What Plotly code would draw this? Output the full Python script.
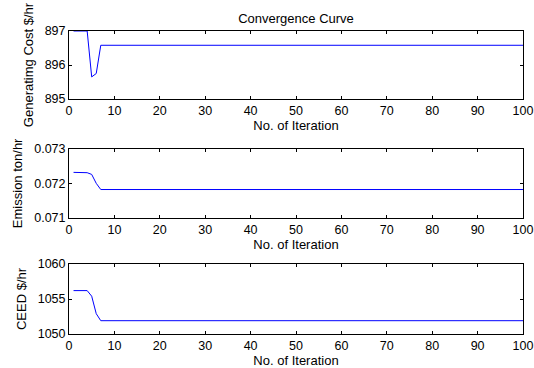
import plotly.graph_objects as go

iterations = list(range(1, 101))
cost_head = [897.0, 897.0, 897.0, 897.0, 895.65, 895.75, 896.58]
emission_head = [0.07232, 0.07232, 0.07232, 0.07231, 0.07226, 0.07200, 0.07182]
ceed_head = [1056.2, 1056.2, 1056.2, 1056.2, 1055.4, 1052.9, 1051.9]
cost = cost_head + [896.58] * (100 - len(cost_head))
emission = emission_head + [0.07182] * (100 - len(emission_head))
ceed = ceed_head + [1051.9] * (100 - len(ceed_head))

title_text = "Convergence Curve"
x_title = "No. of Iteration"
y_titles = ["Generatimg Cost $/hr", "Emission ton/hr", "CEED $/hr"]
y_ranges = [[895, 897], [0.071, 0.073], [1050, 1060]]
y_ticks = [[895, 896, 897], [0.071, 0.072, 0.073], [1050, 1055, 1060]]
y_ticktext = [["895", "896", "897"], ["0.071", "0.072", "0.073"], ["1050", "1055", "1060"]]
x_ticks = list(range(0, 101, 10))

W, H = 534, 368
x0, x1 = 69, 523
boxes = [(31, 99), (149, 217.7), (264, 334)]

fig = go.Figure()
font = dict(family="Liberation Sans, Arial, sans-serif", size=13, color="black")
tfont = dict(family="Liberation Sans, Arial, sans-serif", size=12.5, color="black")

series = [cost, emission, ceed]
for i, ys in enumerate(series):
    n = "" if i == 0 else str(i + 1)
    fig.add_trace(go.Scatter(x=iterations, y=ys, mode="lines",
                             line=dict(color="#0000ff", width=1),
                             xaxis="x" + n, yaxis="y" + n, showlegend=False,
                             cliponaxis=True, hoverinfo="skip"))
    top, bot = boxes[i]
    axis_common = dict(showline=True, linecolor="black", linewidth=1, mirror="ticks",
                       ticks="inside", ticklen=3, tickcolor="black", showgrid=False,
                       zeroline=False, tickfont=tfont, automargin=False)
    fig.layout["xaxis" + n] = dict(axis_common, domain=[x0 / W, x1 / W], range=[0, 100],
                                   tickvals=x_ticks, anchor="y" + n,
                                   title=dict(text=x_title, font=font, standoff=2))
    fig.layout["yaxis" + n] = dict(axis_common, domain=[1 - bot / H, 1 - top / H],
                                   range=y_ranges[i], tickvals=y_ticks[i],
                                   ticktext=y_ticktext[i], anchor="x" + n,
                                   title=dict(text=y_titles[i], font=font, standoff=8))

fig.update_layout(
    template="none",
    width=W, height=H,
    margin=dict(l=0, r=0, t=0, b=0, pad=0),
    paper_bgcolor="white", plot_bgcolor="white",
    font=font,
    title=dict(text=title_text, x=(x0 + x1) / 2 / W, xanchor="center",
               y=1 - 18 / H, yanchor="middle", font=font, automargin=False),
)

fig.write_html("out.html", config={"displayModeBar": False, "staticPlot": True},
               post_script="document.body.style.margin='0';document.body.style.overflow='hidden';")
